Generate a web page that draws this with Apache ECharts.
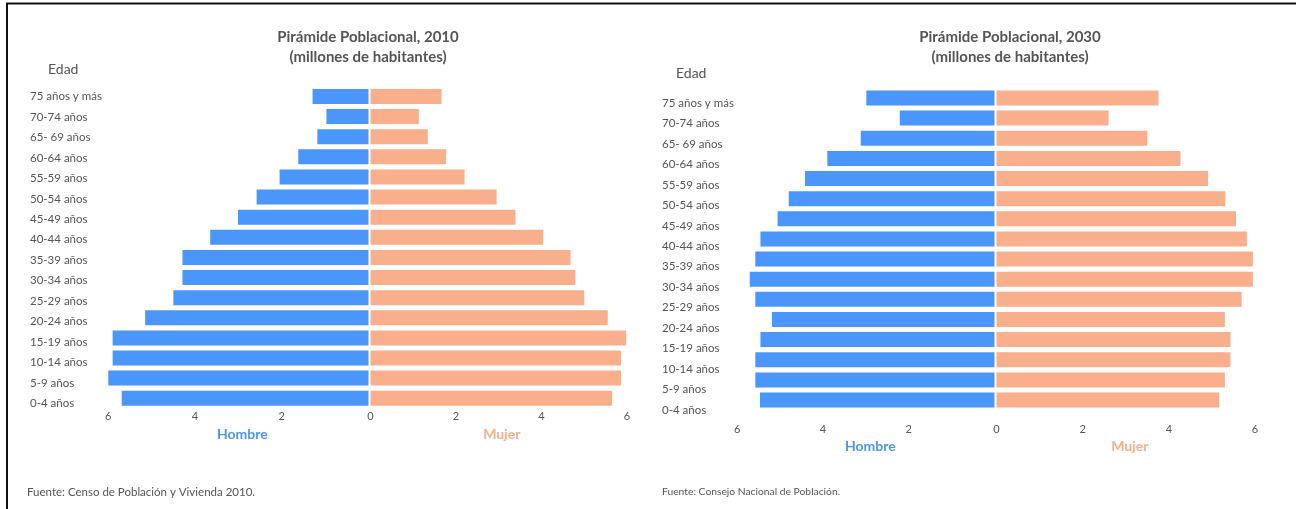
<!DOCTYPE html>
<html>
<head>
<meta charset="utf-8">
<title>Pirámide Poblacional</title>
<script src="https://cdn.jsdelivr.net/npm/echarts@6/dist/echarts.min.js"></script>
<style>
  html, body { margin: 0; padding: 0; background: #fff; }
  #main { width: 1296px; height: 509px; }
</style>
</head>
<body>
<div id="main"></div>
<script>
// grupos de edad (de abajo hacia arriba)
var edades = ['0-4 años', '5-9 años', '10-14 años', '15-19 años', '20-24 años', '25-29 años',
  '30-34 años', '35-39 años', '40-44 años', '45-49 años', '50-54 años', '55-59 años',
  '60-64 años', '65- 69 años', '70-74 años', '75 años y más']

// millones de habitantes
var hombre2010 = [5.69, 6.02, 5.9, 5.9, 5.15, 4.5, 4.29, 4.29, 3.65, 3.01, 2.58, 2.05, 1.62, 1.18, 0.97, 1.29]
var mujer2010  = [5.65, 5.86, 5.86, 5.98, 5.55, 5.0, 4.79, 4.68, 4.04, 3.39, 2.95, 2.2, 1.77, 1.34, 1.13, 1.66]
var hombre2030 = [5.47, 5.58, 5.58, 5.46, 5.19, 5.58, 5.71, 5.58, 5.46, 5.06, 4.8, 4.42, 3.9, 3.12, 2.21, 2.99]
var mujer2030  = [5.17, 5.3, 5.43, 5.43, 5.3, 5.69, 5.95, 5.95, 5.81, 5.56, 5.31, 4.91, 4.27, 3.5, 2.6, 3.76]

var ejeMax = 6
var ejePaso = 2

var azul = '#4a96fb'
var salmon = '#f9af8b'
var gris = '#555'
var fuente = 'Lato, "Noto Sans", sans-serif'

function ejeValor (grid, inverso, margen, nombre, color, ocultarCero, desplaza) {
  return {
    type: 'value', gridIndex: grid, min: 0, max: ejeMax, interval: ejePaso, inverse: inverso,
    axisLine: { show: false }, axisTick: { show: false }, splitLine: { show: false },
    axisLabel: {
      color: gris, fontSize: 11, fontFamily: fuente, margin: margen,
      formatter: function (v) { return (ocultarCero && v === 0) ? '' : v }
    },
    name: nombre, nameLocation: 'middle', nameGap: margen + 15,
    nameTextStyle: { color: color, fontSize: 14, fontWeight: 'bold', fontFamily: fuente, padding: [0, 0, 0, desplaza] }
  }
}

function ejeCat (grid, conTexto) {
  return {
    type: 'category', gridIndex: grid, data: edades,
    axisLine: { show: false }, axisTick: { show: false },
    axisLabel: conTexto ? { show: true, inside: true, margin: 0, color: gris, fontSize: 11.5, fontFamily: fuente } : { show: false }
  }
}

function barra (x, datos, color) {
  return {
    type: 'bar', xAxisIndex: x, yAxisIndex: x, data: datos, barWidth: 15,
    itemStyle: { color: color }, silent: true
  }
}

var titulo = { fontSize: 15, fontWeight: 'bold', color: gris, fontFamily: fuente, lineHeight: 20 }
var edad = { fontSize: 14, fontWeight: 'normal', color: gris, fontFamily: fuente }

var option = {
  animation: false,
  title: [
    { text: 'Pirámide Poblacional, 2010\n(millones de habitantes)', left: 368, top: 27, padding: 0, textAlign: 'center', textStyle: titulo },
    { text: 'Pirámide Poblacional, 2030\n(millones de habitantes)', left: 1010, top: 27, padding: 0, textAlign: 'center', textStyle: titulo },
    { text: 'Edad', left: 48, top: 62, padding: 0, textStyle: edad },
    { text: 'Edad', left: 676, top: 66, padding: 0, textStyle: edad },
    { text: 'Fuente: Censo de Población y Vivienda 2010.', left: 27, top: 486, padding: 0,
      textStyle: { fontSize: 11.5, fontWeight: 'normal', color: gris, fontFamily: fuente } },
    { text: 'Fuente: Consejo Nacional de Población.', left: 662, top: 487, padding: 0,
      textStyle: { fontSize: 10.3, fontWeight: 'normal', color: gris, fontFamily: fuente } }
  ],
  grid: [
    { left: 108.3, width: 260.2, top: 86.4, height: 321.9 },
    { left: 370.5, width: 256.5, top: 86.4, height: 321.9 },
    { left: 30, width: 10, top: 86.5, height: 327 },
    { left: 737.3, width: 257.2, top: 87.9, height: 322.2 },
    { left: 996.5, width: 258.5, top: 87.9, height: 322.2 },
    { left: 662, width: 10, top: 92.8, height: 327.4 }
  ],
  xAxis: [
    ejeValor(0, true, 3, 'Hombre', '#4b95f6', true, 8),
    ejeValor(1, false, 3, 'Mujer', salmon, false, 6),
    { type: 'value', gridIndex: 2, show: false },
    ejeValor(3, true, 13.5, 'Hombre', '#4b95f6', true, 9),
    ejeValor(4, false, 13.5, 'Mujer', salmon, false, 8),
    { type: 'value', gridIndex: 5, show: false }
  ],
  yAxis: [
    ejeCat(0, false), ejeCat(1, false), ejeCat(2, true),
    ejeCat(3, false), ejeCat(4, false), ejeCat(5, true)
  ],
  series: [
    barra(0, hombre2010, azul),
    barra(1, mujer2010, salmon),
    barra(3, hombre2030, azul),
    barra(4, mujer2030, salmon)
  ],
  graphic: [
    { type: 'line', shape: { x1: 6, y1: 3.5, x2: 1296, y2: 3.5 }, style: { stroke: '#111', lineWidth: 2 } },
    { type: 'line', shape: { x1: 7, y1: 3, x2: 7, y2: 509 }, style: { stroke: '#111', lineWidth: 2 } }
  ]
}

var myChart = echarts.init(document.getElementById('main'))
myChart.setOption(option)
</script>
</body>
</html>
